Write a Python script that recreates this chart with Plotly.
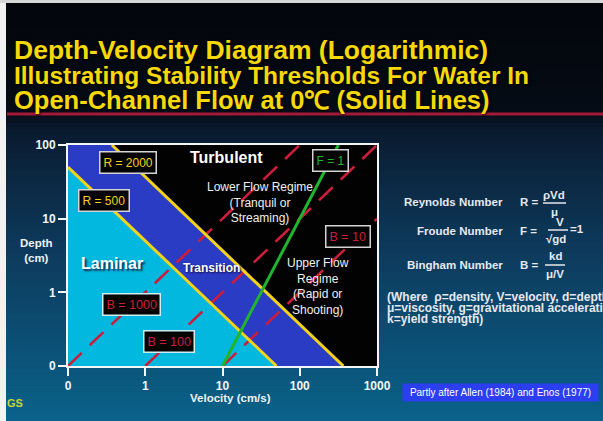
import plotly.graph_objects as go

# ---------------------------------------------------------------- data
vel_ticks = [0.1, 1, 10, 100, 1000]
vel_labels = ["0", "1", "10", "100", "1000"]
depth_ticks = [0.1, 1, 10, 100]
depth_labels = ["0", "1", "10", "100"]

# Reynolds thresholds (solid yellow), end points in (velocity cm/s, depth cm)
r500_v = [0.1, 50]
r500_d = [50, 0.1]
r2000_v = [0.37, 367]
r2000_d = [100, 0.1]

# Froude F = 1 (solid green)
f1_v = [10, 316]
f1_d = [0.1, 100]

# Bingham thresholds (dashed red)
b1000_v = [0.1, 100]
b1000_d = [0.1, 100]
b100_v = [1, 1000]
b100_d = [0.1, 100]
b10_v = [10, 1000]
b10_d = [0.1, 10]

# axis limits
v_lo, v_hi = 0.1, 1000
d_lo, d_hi = 0.1, 100

# ---------------------------------------------------------------- layout geometry
W, H = 603, 421
ML, MR, MT, MB = 68, 226, 145, 55
PW, PH = W - ML - MR, H - MT - MB


def fx(x):
    return (x - ML) / PW


def fy(y):
    return (H - MB - y) / PH


FONT = "Liberation Sans, Arial, Helvetica, sans-serif"
CYAN = "#02b8de"
BLUE = "#2a3bc4"
YELLOW = "#f2d21a"
GREEN = "#1fb52e"
RED = "#cc1d3c"

fig = go.Figure()

# regime fills
fig.add_trace(go.Scatter(
    x=[v_lo, v_lo, v_hi, v_hi], y=[d_lo, d_hi, d_hi, d_lo],
    fill="toself", fillcolor="#020202", line=dict(width=0),
    mode="lines", hoverinfo="skip", showlegend=False))
fig.add_trace(go.Scatter(
    x=[r500_v[0], r500_v[0], r2000_v[0], r2000_v[1], r500_v[1]],
    y=[r500_d[0], d_hi, r2000_d[0], r2000_d[1], r500_d[1]],
    fill="toself", fillcolor=BLUE, line=dict(width=0),
    mode="lines", hoverinfo="skip", showlegend=False))
fig.add_trace(go.Scatter(
    x=[v_lo, r500_v[0], r500_v[1]], y=[d_lo, r500_d[0], r500_d[1]],
    fill="toself", fillcolor=CYAN, line=dict(width=0),
    mode="lines", hoverinfo="skip", showlegend=False))

# Bingham dashed lines
for bv, bd in [(b1000_v, b1000_d), (b100_v, b100_d), (b10_v, b10_d)]:
    fig.add_trace(go.Scatter(
        x=bv, y=bd, mode="lines",
        line=dict(color=RED, width=2.6, dash="19px,11px"),
        hoverinfo="skip", showlegend=False))

# Reynolds lines
for rv, rd in [(r500_v, r500_d), (r2000_v, r2000_d)]:
    fig.add_trace(go.Scatter(
        x=rv, y=rd, mode="lines", line=dict(color=YELLOW, width=3),
        hoverinfo="skip", showlegend=False))

# Froude line
fig.add_trace(go.Scatter(
    x=f1_v, y=f1_d, mode="lines", line=dict(color=GREEN, width=3),
    hoverinfo="skip", showlegend=False))

# ---------------------------------------------------------------- background
shapes = []
stops = [(0, (3, 5, 10)), (114, (5, 12, 22)), (128, (10, 26, 46)),
         (250, (13, 58, 92)), (421, (10, 98, 138))]
N = 70
for i in range(N):
    y0 = 3 + (H - 3) * i / N
    y1 = 3 + (H - 3) * (i + 1) / N
    ym = (y0 + y1) / 2
    for (a, ca), (b, cb) in zip(stops[:-1], stops[1:]):
        if a <= ym <= b:
            t = (ym - a) / (b - a)
            c = tuple(int(round(ca[k] + (cb[k] - ca[k]) * t)) for k in range(3))
            break
    shapes.append(dict(type="rect", xref="paper", yref="paper", layer="below",
                       x0=fx(0), x1=fx(W), y0=fy(y1 + 0.6), y1=fy(y0),
                       fillcolor="rgb(%d,%d,%d)" % c, line=dict(width=0)))

# red rule under the heading
shapes.append(dict(type="line", xref="paper", yref="paper",
                   x0=fx(7), x1=fx(W), y0=fy(114), y1=fy(114),
                   line=dict(color="#a51a38", width=3)))
# light frame edges
shapes.append(dict(type="rect", xref="paper", yref="paper",
                   x0=fx(0), x1=fx(6), y0=fy(H), y1=fy(0),
                   fillcolor="#f2f2f2", line=dict(width=0)))
shapes.append(dict(type="rect", xref="paper", yref="paper",
                   x0=fx(0), x1=fx(W), y0=fy(3), y1=fy(0),
                   fillcolor="#d6d6d6", line=dict(width=0)))

# fraction bars of the equations
EQ = "#e6e8f0"
for x0, x1, y in [(543, 566, 203), (548, 568, 230), (545, 565, 265)]:
    shapes.append(dict(type="line", xref="paper", yref="paper",
                       x0=fx(x0), x1=fx(x1), y0=fy(y), y1=fy(y),
                       line=dict(color=EQ, width=1.5)))

# ---------------------------------------------------------------- annotations
ann = []


def text(x, y, s, size=12, color="white", bold=False, xanchor="center",
         align="center", shadow=None, box=None):
    a = dict(x=fx(x), y=fy(y), xref="paper", yref="paper", text=s,
             showarrow=False, xanchor=xanchor, yanchor="middle", align=align,
             font=dict(family=FONT, size=size, color=color,
                       weight="bold" if bold else "normal"))
    if shadow:
        a["font"]["shadow"] = shadow
    if box:
        a.update(bgcolor="#050505", bordercolor=box, borderwidth=1.5,
                 borderpad=3)
    ann.append(a)


# heading
for y, s, sz in [(50, "Depth-Velocity Diagram (Logarithmic)", 26.5),
                 (75, "Illustrating Stability Thresholds For Water In", 24.5),
                 (100, "Open-Channel Flow at 0℃ (Solid Lines)", 25.5)]:
    text(12, y, s, size=sz, color="#f7d808", bold=True, xanchor="left",
         align="left", shadow="1px 1px 3px #000")

# regime names
text(226, 157, "Turbulent", size=16, bold=True)
text(112, 263, "Laminar", size=16, bold=True, shadow="2px 2px 2px #0a2850")
text(211, 268, "Transition", size=12, bold=True, shadow="1px 1px 2px #101040")
text(260, 202, "Lower Flow Regime<br>(Tranquil or<br>Streaming)", size=12,
     color="#f0f0f0")
text(318, 286, "Upper Flow<br>Regime<br>(Rapid or<br>Shooting)", size=12,
     color="#f0f0f0")

# threshold labels
text(128, 162, "R = 2000", size=12, color=YELLOW, box="#d4d4d4")
text(104, 200, "R = 500", size=12, color=YELLOW, box="#d4d4d4")
text(330, 160, "F = 1", size=12, color=GREEN, box="#d4d4d4")
text(348, 236, "B = 10", size=12.5, color=RED, box="#d4d4d4")
text(131, 304, "B = 1000", size=12.5, color=RED, box="#cfeef4")
text(169, 341, "B = 100", size=12.5, color=RED, box="#cfeef4")

# axis titles
text(36, 250, "Depth<br>(cm)", size=11.5, bold=True, color="#eef2f6")
text(230, 398, "Velocity (cm/s)", size=11.5, bold=True, color="#eef2f6")

# equations
text(505, 202, "Reynolds Number", size=11.5, bold=True, color=EQ, xanchor="right")
text(505, 231, "Froude Number", size=11.5, bold=True, color=EQ, xanchor="right")
text(505, 265, "Bingham Number", size=11.5, bold=True, color=EQ, xanchor="right")
text(518, 202, "R =", size=11.5, bold=True, color=EQ, xanchor="left")
text(518, 231, "F =", size=11.5, bold=True, color=EQ, xanchor="left")
text(518, 265, "B =", size=11.5, bold=True, color=EQ, xanchor="left")
text(554, 195, "ρVd", size=11.5, bold=True, color=EQ)
text(554, 212, "μ", size=11.5, bold=True, color=EQ)
text(560, 222, "V", size=11.5, bold=True, color=EQ)
text(556, 239, "√gd", size=11.5, bold=True, color=EQ)
text(568, 229, "=1", size=11.5, bold=True, color=EQ, xanchor="left")
text(555, 256, "kd", size=11.5, bold=True, color=EQ)
text(555, 274, "μ/V", size=11.5, bold=True, color=EQ)
for y, s in [(297, "(Where  ρ=density, V=velocity, d=depth"),
             (308, "μ=viscosity, g=gravitational acceleration"),
             (319, "k=yield strength)")]:
    text(385, y, s, size=12, bold=True, color=EQ, xanchor="left", align="left")

# credit and corner mark
ann.append(dict(x=fx(500), y=fy(392), xref="paper", yref="paper",
                text="Partly after Allen (1984) and Enos (1977)",
                showarrow=False, xanchor="center", yanchor="middle",
                font=dict(family=FONT, size=10, color="white"),
                bgcolor="#2b3ef0", borderpad=3, width=189))
text(5, 403, "GS", size=11, bold=True, color="#c8d83c", xanchor="left",
     align="left")

axis_common = dict(type="log", showgrid=False, zeroline=False, showline=True,
                   mirror=True, linecolor="#f2f6f6", linewidth=2,
                   ticks="outside", ticklen=8, tickwidth=2,
                   tickcolor="#f2f6f6",
                   tickfont=dict(family=FONT, size=12, color="#f2f6f6",
                                 weight="bold"))

fig.update_layout(
    width=W, height=H,
    margin=dict(l=ML, r=MR, t=MT, b=MB, pad=0),
    paper_bgcolor="#0a2a48", plot_bgcolor="#020202",
    showlegend=False,
    xaxis=dict(axis_common, range=[-1, 3], tickvals=vel_ticks,
               ticktext=vel_labels),
    yaxis=dict(axis_common, range=[-1, 2], tickvals=depth_ticks,
               ticktext=depth_labels),
    shapes=shapes,
    annotations=ann,
)

fig.write_html("out.html")
